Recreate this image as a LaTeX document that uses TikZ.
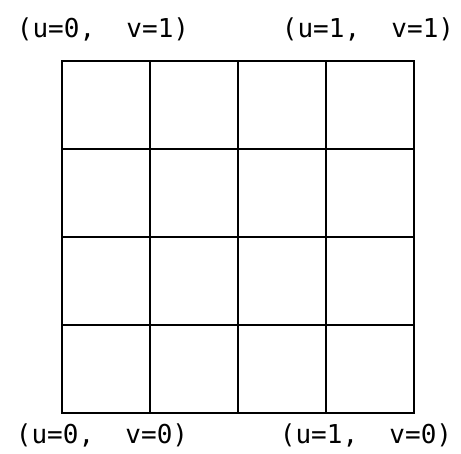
\documentclass[tikz,border=0pt]{standalone}
\usepackage{fontspec}
\setmonofont{DejaVu Sans Mono}
\usetikzlibrary{calc,positioning}
\tikzset{
  gridline/.style={draw=black,line width=1.6pt},
  cornerlabel/.style={font=\ttfamily\fontsize{26}{30}\selectfont,inner sep=0pt}
}

\begin{document}
\begin{tikzpicture}[x=1pt,y=-1pt]
    \useasboundingbox (0,0) rectangle (461,453);

    \coordinate (sw) at (62,413);
    \coordinate (ne) at (414,61);

    \foreach \k in {1,2,3} {
      \draw[gridline] ($(sw)+(88*\k,0)$) -- ($(sw)+(88*\k,-352)$);
      \draw[gridline] ($(sw)+(0,-88*\k)$) -- ($(sw)+(352,-88*\k)$);
    }
    \draw[gridline] (sw) rectangle (ne);

    \node[cornerlabel] (uv01) at (103,29) {(u=0,~~v=1)};
    \node[cornerlabel] (uv11) at (368,29) {(u=1,~~v=1)};
    \node[cornerlabel] (uv00) at (102,435) {(u=0,~~v=0)};
    \node[cornerlabel] (uv10) at (366,435) {(u=1,~~v=0)};
\end{tikzpicture}
\end{document}
